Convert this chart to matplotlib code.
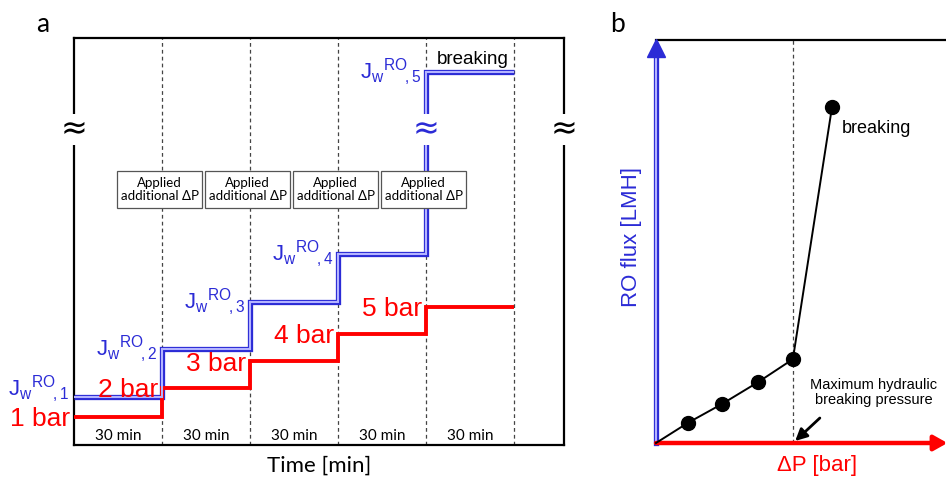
import matplotlib
matplotlib.use("Agg")
import matplotlib.pyplot as plt
from matplotlib.patches import Rectangle

plt.rcParams['font.family'] = ['Liberation Sans', 'DejaVu Sans']
plt.rcParams['mathtext.fontset'] = 'custom'
plt.rcParams['mathtext.rm'] = 'Liberation Sans'
plt.rcParams['mathtext.it'] = 'Liberation Sans'

# panel a: pressure steps (schematic, arbitrary flux units 0-100)
edges = [0, 30, 60, 90, 120, 150]
bar_labels = ['1 bar', '2 bar', '3 bar', '4 bar', '5 bar']
red_level = [6.9, 14.0, 20.6, 27.3, 33.9]
blue_level = [11.8, 23.6, 35.1, 46.9, 91.6]
step_text = ['30 min'] * 5
box_text = 'Applied\nadditional ΔP'

# panel b: RO flux vs applied pressure (arbitrary units)
dp = [1.1, 2.28, 3.52, 4.72, 6.07]
flux = [0.5, 0.97, 1.51, 2.08, 8.34]

RED = '#ff0000'
BLUE = '#2b2bd6'
LIGHT = '#b4b4ff'

W, H = 946, 478
fig = plt.figure(figsize=(W / 100, H / 100), dpi=100)


def pos(x0, y0, x1, y1):
    return [x0 / W, 1 - y1 / H, (x1 - x0) / W, (y1 - y0) / H]


# ---------------- panel a ----------------
ax = fig.add_axes(pos(74, 38, 564, 445))
ax.set_xlim(0, 167)
ax.set_ylim(0, 100)
ax.set_xticks([])
ax.set_yticks([])
for s in ax.spines.values():
    s.set_linewidth(1.6)
    s.set_color('black')

for e in edges[1:]:
    ax.axvline(e, color='#444444', lw=0.9, ls=(0, (3, 2.5)), zorder=1)

ax.stairs(blue_level, edges, baseline=None, color=BLUE, lw=3.8, zorder=3)
ax.stairs(blue_level, edges, baseline=None, color=LIGHT, lw=1.5, zorder=4)
ax.stairs(red_level, edges, baseline=None, color=RED, lw=2.8, zorder=3)

# break marks
brk = 77.4
for xb in [0, 167]:
    ax.text(xb, brk, '≈', color='black', fontsize=23, ha='center', va='center',
            family='DejaVu Sans', zorder=6,
            bbox=dict(boxstyle='square,pad=0.0', fc='white', ec='none'))
ax.text(edges[4], brk, '≈', color=BLUE, fontsize=23, ha='center', va='center',
        family='DejaVu Sans', zorder=6,
        bbox=dict(boxstyle='square,pad=0.0', fc='white', ec='none'))

for i, (lab, lv) in enumerate(zip(bar_labels, red_level)):
    ax.text(edges[i] - 1.3, lv - 0.6, lab, color=RED, fontsize=19,
            ha='right', va='center', zorder=5)
    off = 2.0 if i == 0 else 0.0
    ax.text(edges[i] - 1.5, blue_level[i] + off,
            r'$\mathrm{J_{w}{}^{RO}\!{}_{,%d}}$' % (i + 1), color=BLUE,
            fontsize=16, ha='right', va='center', zorder=5)

ax.text(136, 91.6 + 3.2, 'breaking', fontsize=13.5, ha='center', va='center')

for i in range(1, 5):
    cx = edges[i] - 0.8
    ax.add_patch(Rectangle((cx - 14.4, 58.2), 28.8, 9.1, fc='white',
                           ec='#555555', lw=0.9, zorder=7))
    ax.text(cx, 62.7, box_text, fontsize=9.5, ha='center', va='center',
            family='Lato', linespacing=1.1, zorder=8)

for i, t in enumerate(step_text):
    ax.text(edges[i] + 15, 2.2, t, fontsize=11, ha='center', va='center',
            family='Lato')

ax.text(0.5, -0.05, 'Time [min]', transform=ax.transAxes, fontsize=16,
        ha='center', va='center', family='Lato')
fig.text(43 / W, 1 - 25 / H, 'a', fontsize=19, ha='center', va='center',
         family='Lato')

# ---------------- panel b ----------------
bx = fig.add_axes(pos(656, 40, 946, 443))
bx.set_xlim(0, 10)
bx.set_ylim(0, 10)
bx.axis('off')

bx.plot([0, 1], [1, 1], color='black', lw=1.6, transform=bx.transAxes,
        clip_on=False)
bx.plot([dp[3], dp[3]], [0, 10], color='#444444', lw=0.9, ls=(0, (3, 2.5)))

bx.plot([0, 0], [0, 9.6], color=BLUE, lw=3.8, clip_on=False, zorder=3)
bx.plot([0, 0], [0, 9.6], color=LIGHT, lw=1.5, clip_on=False, zorder=4)
bx.plot([0], [9.8], marker='^', ms=13, color=BLUE, clip_on=False, zorder=5)

bx.annotate('', xy=(10.05, 0), xytext=(0, 0),
            arrowprops=dict(arrowstyle='-|>,head_length=0.8,head_width=0.45',
                            color=RED, lw=3.2, shrinkA=0, shrinkB=0),
            annotation_clip=False, zorder=5)

bx.plot([0] + dp, [0] + flux, color='black', lw=1.4, zorder=6, clip_on=False)
bx.plot(dp, flux, 'o', color='black', ms=10, zorder=7, clip_on=False)

bx.text(6.4, 7.8, 'breaking', fontsize=13, ha='left', va='center')
bx.text(7.5, 1.25, 'Maximum hydraulic\nbreaking pressure', fontsize=10.5,
        ha='center', va='center', linespacing=1.15)
bx.annotate('', xy=(4.8, 0.05), xytext=(5.65, 0.62),
            arrowprops=dict(arrowstyle='-|>,head_length=0.7,head_width=0.35',
                            color='black', lw=2.0, shrinkA=0, shrinkB=0),
            zorder=8)

bx.text(5.55, -0.57, 'ΔP [bar]', color=RED, fontsize=16, ha='center',
        va='center')
bx.text(-0.83, 5.1, 'RO flux [LMH]', color=BLUE, fontsize=16, rotation=90,
        ha='center', va='center')
fig.text(617 / W, 1 - 25 / H, 'b', fontsize=19, ha='center', va='center',
         family='Lato')

fig.savefig('out.png', dpi=100)
